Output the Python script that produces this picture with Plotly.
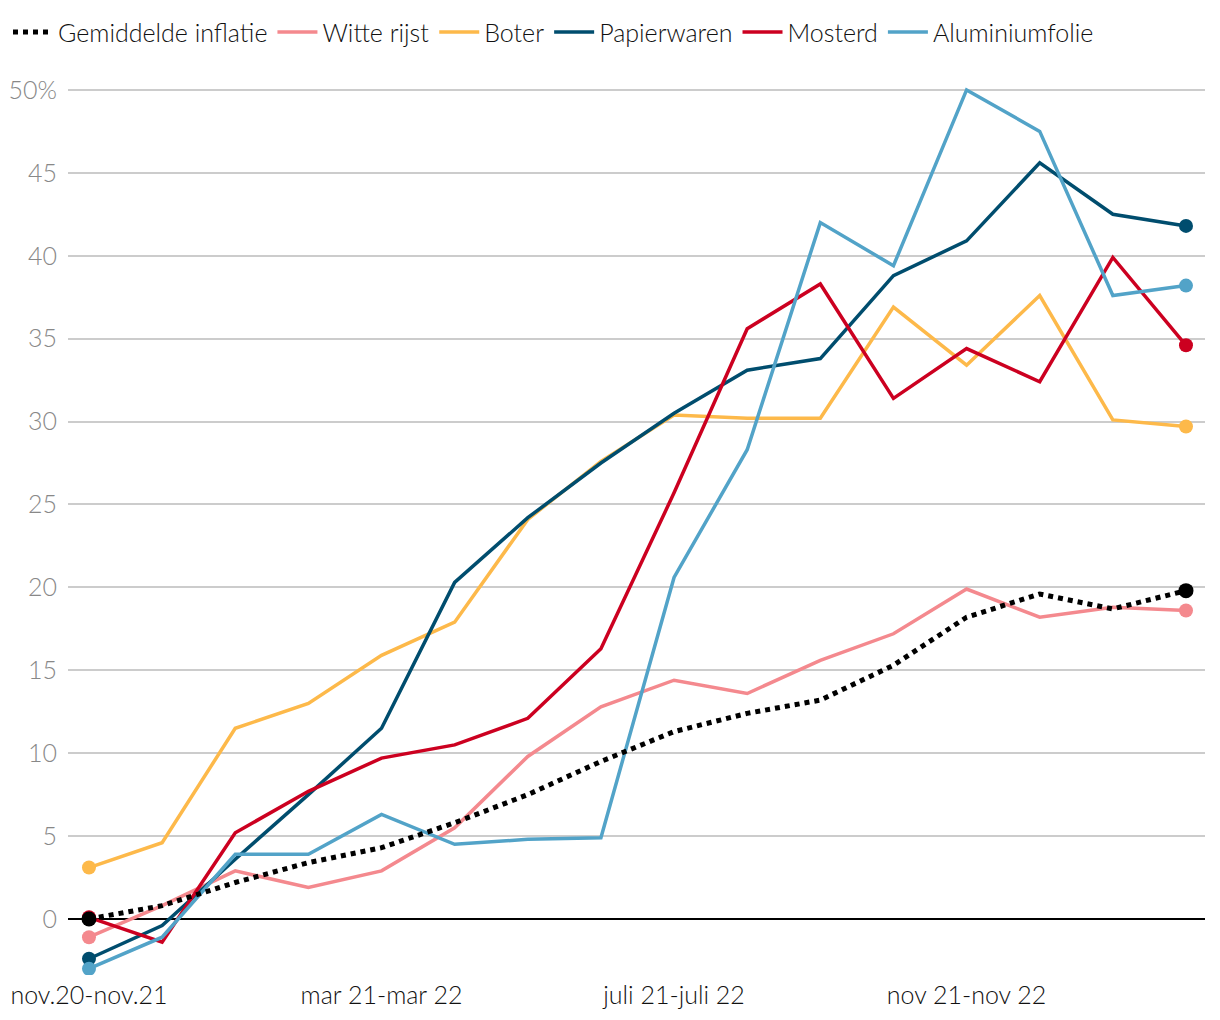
import plotly.graph_objects as go

x_idx = list(range(16))
tick_vals = [0, 4, 8, 12]
tick_text = ["nov.20-nov.21", "mar 21-mar 22", "juli 21-juli 22", "nov 21-nov 22"]

gemiddelde = [0.0, 0.8, 2.2, 3.4, 4.3, 5.8, 7.5, 9.5, 11.3, 12.4, 13.2, 15.3, 18.2, 19.6, 18.7, 19.8]
witte_rijst = [-1.1, 0.8, 2.9, 1.9, 2.9, 5.5, 9.8, 12.8, 14.4, 13.6, 15.6, 17.2, 19.9, 18.2, 18.8, 18.6]
boter = [3.1, 4.6, 11.5, 13.0, 15.9, 17.9, 24.1, 27.6, 30.4, 30.2, 30.2, 36.9, 33.4, 37.6, 30.1, 29.7]
papierwaren = [-2.4, -0.4, 3.6, 7.5, 11.5, 20.3, 24.2, 27.5, 30.5, 33.1, 33.8, 38.8, 40.9, 45.6, 42.5, 41.8]
mosterd = [0.1, -1.4, 5.2, 7.7, 9.7, 10.5, 12.1, 16.3, 25.7, 35.6, 38.3, 31.4, 34.4, 32.4, 39.9, 34.6]
aluminiumfolie = [-3.0, -1.1, 3.9, 3.9, 6.3, 4.5, 4.8, 4.9, 20.6, 28.3, 42.0, 39.4, 50.0, 47.5, 37.6, 38.2]

series = [
    ("Witte rijst", witte_rijst, "#f4898e", 2),
    ("Boter", boter, "#fdb94a", 3),
    ("Papierwaren", papierwaren, "#004d6e", 4),
    ("Mosterd", mosterd, "#cc0020", 5),
    ("Aluminiumfolie", aluminiumfolie, "#52a3c8", 6),
]

fig = go.Figure()
ends = [x_idx[0], x_idx[-1]]

for name, vals, color, rank in series:
    fig.add_trace(go.Scatter(
        x=x_idx, y=vals, name=name, mode="lines",
        line=dict(color=color, width=3.5),
        legendrank=rank, hoverinfo="skip",
    ))
    fig.add_trace(go.Scatter(
        x=ends, y=[vals[0], vals[-1]], mode="markers", showlegend=False,
        marker=dict(color=color, size=14, opacity=1, line=dict(width=0)),
        hoverinfo="skip",
    ))

fig.add_trace(go.Scatter(
    x=x_idx, y=gemiddelde, name="Gemiddelde inflatie", mode="lines",
    line=dict(color="#000000", width=5, dash="dot"),
    legendrank=1, hoverinfo="skip",
))
fig.add_trace(go.Scatter(
    x=ends, y=[gemiddelde[0], gemiddelde[-1]], mode="markers", showlegend=False,
    marker=dict(color="#000000", size=15, opacity=1, line=dict(width=0)),
    hoverinfo="skip",
))

fig.update_layout(
    width=1212, height=1012,
    margin=dict(l=60, r=15, t=72, b=45),
    paper_bgcolor="white", plot_bgcolor="white",
    font=dict(family="Lato", size=25, color="#111111", weight=300),
    showlegend=True,
    legend=dict(orientation="h", x=0.0, xref="container", xanchor="left",
                y=0.976, yref="container", yanchor="middle",
                font=dict(size=25, color="#111111", weight=300),
                itemwidth=40,
                traceorder="normal", itemclick=False),
    xaxis=dict(
        range=[-0.287, 15.26], tickmode="array", tickvals=tick_vals, ticktext=tick_text,
        showgrid=False, zeroline=False, showline=False, ticks="", automargin=False,
        ticklabelstandoff=3,
        tickfont=dict(size=25, color="#111111", weight=300),
    ),
    yaxis=dict(
        range=[-3.38, 50.6], tickmode="array",
        tickvals=[0, 5, 10, 15, 20, 25, 30, 35, 40, 45, 50],
        ticktext=["0", "5", "10", "15", "20", "25", "30", "35", "40", "45", "50%"],
        showgrid=True, gridcolor="#cccccc", gridwidth=1.5,
        zeroline=True, zerolinecolor="#000000", zerolinewidth=2,
        showline=False, ticks="", ticklabelstandoff=10, automargin=False,
        tickfont=dict(size=25, color="#888888", weight=300),
    ),
)

fig.write_html("out.html")
